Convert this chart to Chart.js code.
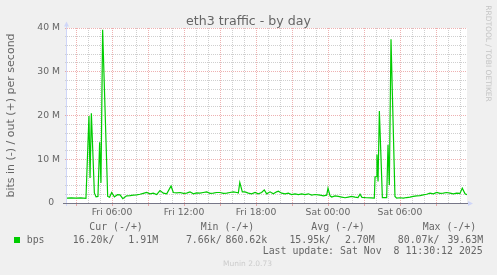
<!DOCTYPE html>
<html>
<head>
<meta charset="utf-8">
<script src="https://cdn.jsdelivr.net/npm/chart.js@4.4.1/dist/chart.umd.min.js"></script>
<style>
html, body { margin: 0; padding: 0; background: #f0f0f0; }
canvas { display: block; }
</style>
</head>
<body>
<canvas id="chart" width="497" height="275"></canvas>
<script>
// hours since Fri 00:00, out traffic in Mbit/s
const hours = [
    2.25, 2.6, 3.0, 3.4, 3.83, 4.08, 4.17, 4.28, 4.53, 4.67, 4.83, 4.97, 5.08, 5.22, 5.64, 5.8,
    5.97, 6.2, 6.45, 6.67, 6.9, 7.22, 7.5, 7.78, 8.06, 8.33, 8.61, 8.89, 9.17, 9.44, 9.72, 10.0,
    10.28, 10.56, 10.92, 11.11, 11.4, 11.67, 11.95, 12.22, 12.5, 12.78, 13.05, 13.33, 13.6, 13.89,
    14.17, 14.44, 14.72, 15.0, 15.28, 15.56, 15.83, 16.11, 16.4, 16.53, 16.65, 16.86, 17.08, 17.36,
    17.64, 17.92, 18.19, 18.47, 18.69, 18.89, 19.17, 19.44, 19.72, 19.86, 20.14, 20.42, 20.69,
    20.97, 21.25, 21.53, 21.81, 22.08, 22.36, 22.64, 22.92, 23.19, 23.45, 23.61, 23.89, 24.0,
    24.17, 24.31, 24.58, 24.86, 25.14, 25.42, 25.69, 25.97, 26.25, 26.5, 26.67, 26.83, 27.2,
    27.6, 27.86, 27.92, 28.0, 28.08, 28.17, 28.28, 28.53, 28.89, 29.0, 29.11, 29.25, 29.58,
    29.72, 30.0, 30.28, 30.55, 30.83, 31.1, 31.39, 31.66, 31.94, 32.22, 32.5, 32.78, 33.06,
    33.33, 33.61, 33.89, 34.17, 34.44, 34.72, 35.0, 35.19, 35.42, 35.58
];
const outMbps = [
    1.1, 1.15, 1.1, 1.15, 1.05, 19.9, 5.7, 20.5, 2.3, 1.4, 1.5, 13.9, 4.6, 39.6, 1.5, 1.3,
    2.4, 1.4, 1.9, 1.85, 1.0, 1.64, 1.7, 1.8, 1.85, 2.0, 2.2, 2.4, 2.1, 2.25, 1.94, 2.85,
    2.25, 2.1, 3.9, 2.4, 2.3, 2.4, 2.2, 2.25, 2.55, 2.1, 2.3, 2.25, 2.4, 2.55,
    2.2, 2.25, 2.4, 2.4, 2.2, 2.25, 2.4, 2.55, 2.4, 2.3, 4.7, 2.55, 2.55, 2.25,
    2.1, 2.4, 2.1, 2.4, 3.0, 2.1, 2.55, 2.1, 2.55, 2.7, 2.25, 2.1, 2.25,
    1.94, 2.1, 1.94, 2.1, 1.94, 2.1, 1.8, 1.94, 1.87, 1.75, 1.64, 1.8, 3.4,
    1.64, 1.35, 1.64, 1.5, 1.35, 1.2, 1.35, 1.5, 1.35, 1.25, 2.0, 1.3, 1.2,
    1.15, 1.1, 6.0, 6.0, 11.1, 4.9, 21.0, 1.25, 1.25, 13.3, 4.1, 37.4, 1.5,
    1.1, 1.2, 1.1, 1.25, 1.34, 1.5, 1.64, 1.7, 1.87, 2.0, 2.25, 2.1, 2.4,
    2.2, 2.25, 2.4, 2.25, 2.1, 2.25, 2.2, 3.4, 2.1, 1.9
];
const tickHours = [6, 12, 18, 24, 30];
const tickLabels = ['Fri 06:00', 'Fri 12:00', 'Fri 18:00', 'Sat 00:00', 'Sat 06:00'];
const yLabelValues = [0, 10, 20, 30, 40];
const yLabels = ['0  ', '10 M', '20 M', '30 M', '40 M'];
const legendHeaders = ['Cur (-/+)', 'Min (-/+)', 'Avg (-/+)', 'Max (-/+)'];
const inValues = ['16.20k', '7.66k', '15.95k', '80.07k'];
const outValues = ['1.91M', '860.62k', '2.70M', '39.63M'];

const MAJOR = 'rgba(215,70,70,0.42)';
const MINOR = '#cfcfcf';
const FONT = '#666666';
const AXIS = '#cfd6f8';

const gridHours = [];
for (let h = 3; h <= 35; h++) gridHours.push(h);
const gridMbps = [];
for (let v = 0; v <= 40; v += 2) gridMbps.push(v);

const muninPlugin = {
    id: 'munin',
    beforeDraw(chart) {
        const { ctx, chartArea: a } = chart;
        ctx.save();
        ctx.fillStyle = '#f0f0f0';
        ctx.fillRect(0, 0, chart.width, chart.height);
        ctx.fillStyle = '#ffffff';
        ctx.fillRect(a.left, a.top, a.right - a.left, a.bottom - a.top);
        ctx.restore();
    },
    afterDatasetsDraw(chart) {
        const { ctx, chartArea: a } = chart;
        ctx.save();
        ctx.lineWidth = 1;
        // left axis + arrow
        ctx.strokeStyle = AXIS;
        ctx.beginPath();
        ctx.moveTo(a.left - 0.5, a.bottom + 3);
        ctx.lineTo(a.left - 0.5, a.top - 2);
        ctx.stroke();
        ctx.fillStyle = AXIS;
        ctx.beginPath();
        ctx.moveTo(a.left - 0.5, a.top - 6.5);
        ctx.lineTo(a.left - 3, a.top - 1.5);
        ctx.lineTo(a.left + 2, a.top - 1.5);
        ctx.closePath();
        ctx.fill();
        // bottom arrow
        ctx.beginPath();
        ctx.moveTo(a.right + 6, a.bottom + 0.5);
        ctx.lineTo(a.right + 1, a.bottom - 2);
        ctx.lineTo(a.right + 1, a.bottom + 3);
        ctx.closePath();
        ctx.fill();
        // zero line
        ctx.strokeStyle = '#777788';
        ctx.beginPath();
        ctx.moveTo(a.left - 4, a.bottom + 0.5);
        ctx.lineTo(a.right + 1, a.bottom + 0.5);
        ctx.stroke();
        ctx.restore();
    },
    afterDraw(chart) {
        const ctx = chart.ctx;
        ctx.save();
        ctx.fillStyle = FONT;
        ctx.font = '12.6px "DejaVu Sans"';
        ctx.textAlign = 'center';
        ctx.textBaseline = 'alphabetic';
        ctx.fillText('eth3 traffic - by day', 248.5, 25);

        ctx.save();
        ctx.translate(11, 115.5);
        ctx.rotate(-Math.PI / 2);
        ctx.font = '11px "DejaVu Sans"';
        ctx.textBaseline = 'middle';
        ctx.fillText('bits in (-) / out (+) per second', 0, 0);
        ctx.restore();

        ctx.save();
        ctx.translate(488, 53.5);
        ctx.rotate(Math.PI / 2);
        ctx.font = '7.5px "DejaVu Sans"';
        ctx.fillStyle = '#c4c4c4';
        ctx.textBaseline = 'middle';
        ctx.fillText('RRDTOOL / TOBI OETIKER', 0, 0);
        ctx.restore();

        // legend
        ctx.font = '9.9px "DejaVu Sans Mono"';
        ctx.textBaseline = 'middle';
        ctx.textAlign = 'left';
        const headerX = [89.3, 200.7, 311.3, 422.7];
        legendHeaders.forEach((t, i) => ctx.fillText(t, headerX[i], 227.5));
        ctx.fillText('bps', 26.7, 240);
        ctx.fillStyle = '#00cc00';
        ctx.fillRect(14, 237, 6, 6);
        ctx.fillStyle = FONT;
        ctx.textAlign = 'right';
        const inEnd = [114.4, 221.6, 331.0, 439.4];
        const outEnd = [158.1, 267.2, 374.7, 483.1];
        inValues.forEach((t, i) => ctx.fillText(t + '/', inEnd[i], 240));
        outValues.forEach((t, i) => ctx.fillText(t, outEnd[i], 240));
        ctx.fillText('Last update: Sat Nov  8 11:30:12 2025', 482.7, 251.5);

        ctx.textAlign = 'center';
        ctx.font = '7.5px "DejaVu Sans"';
        ctx.fillStyle = '#cccccc';
        ctx.fillText('Munin 2.0.73', 247.5, 264);
        ctx.restore();
    }
};

new Chart(document.getElementById('chart').getContext('2d'), {
    type: 'line',
    data: {
        datasets: [{
            label: 'bps',
            data: hours.map((h, i) => ({ x: h, y: outMbps[i] })),
            borderColor: '#00cc00',
            borderWidth: 1.2,
            pointRadius: 0,
            tension: 0,
            fill: false
        }]
    },
    options: {
        responsive: false,
        animation: false,
        devicePixelRatio: 1,
        layout: { padding: { left: 0, right: 30, top: 28, bottom: 0 } },
        plugins: { legend: { display: false }, tooltip: { enabled: false } },
        scales: {
            x: {
                type: 'linear',
                min: 2.25,
                max: 35.583,
                afterBuildTicks: s => { s.ticks = gridHours.map(v => ({ value: v })); },
                afterFit: s => { s.height = 72; },
                grid: {
                    color: c => (c.tick && c.tick.value % 3 === 0) ? MAJOR : MINOR,
                    tickColor: c => (c.tick && c.tick.value % 3 === 0) ? MAJOR : 'rgba(0,0,0,0)',
                    tickLength: 3,
                    lineWidth: 1
                },
                border: { display: false, dash: [1, 1] },
                ticks: {
                    autoSkip: false,
                    maxRotation: 0,
                    padding: 1,
                    color: FONT,
                    font: { family: 'DejaVu Sans', size: 9.25 },
                    callback: v => {
                        const i = tickHours.indexOf(v);
                        return i >= 0 ? tickLabels[i] : '';
                    }
                }
            },
            y: {
                min: 0,
                max: 40,
                afterBuildTicks: s => { s.ticks = gridMbps.map(v => ({ value: v })); },
                afterFit: s => { s.width = 67; },
                grid: {
                    color: c => (c.tick && c.tick.value % 10 === 0) ? MAJOR : MINOR,
                    tickColor: c => (c.tick && c.tick.value % 10 === 0) ? MAJOR : MINOR,
                    tickLength: 2,
                    lineWidth: 1
                },
                border: { display: false, dash: [1, 1] },
                ticks: {
                    autoSkip: false,
                    padding: 5,
                    color: FONT,
                    font: { family: 'DejaVu Sans', size: 9.25 },
                    callback: v => {
                        const i = yLabelValues.indexOf(v);
                        return i >= 0 ? yLabels[i] : '';
                    }
                }
            }
        }
    },
    plugins: [muninPlugin]
});
</script>
</body>
</html>
